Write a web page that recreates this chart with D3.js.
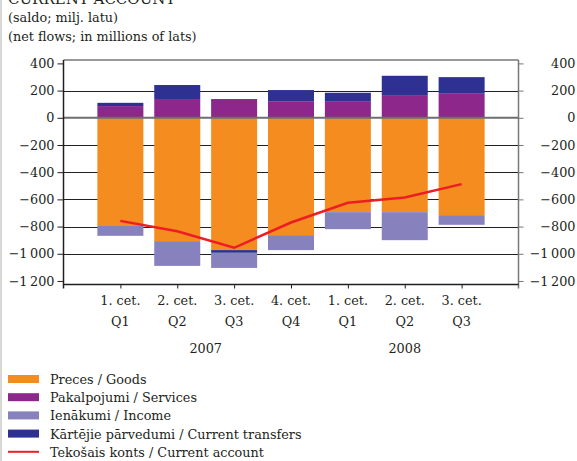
<!DOCTYPE html>
<html><head><meta charset="utf-8">
<script src="https://cdn.jsdelivr.net/npm/d3@7"></script>
<style>body{margin:0;background:#fff}svg{display:block}</style>
</head><body>
<svg id="c" width="577" height="461"></svg>
<script>
const quarters = ["1. cet.|Q1","2. cet.|Q2","3. cet.|Q3","4. cet.|Q4","1. cet.|Q1","2. cet.|Q2","3. cet.|Q3"];
const years = [{label:"2007", from:0, to:3},{label:"2008", from:4, to:6}];
const goods = [-790,-907,-973,-863,-694,-694,-716];
const services = [86,138,138,122,118,167,177];
const income = [-78,-182,-111,-110,-125,-206,-71];
const transfers = [24,103,-20,82,66,142,122];
const currentAccount = [-758,-834,-956,-770,-625,-586,-488];
const yTicks = [400,200,0,-200,-400,-600,-800,-1000,-1200];
const seriesNames = ["Preces / Goods","Pakalpojumi / Services","Ienākumi / Income","Kārtējie pārvedumi / Current transfers","Tekošais konts / Current account"];
const colors = ["#f58c1f","#8e278b","#8781bd","#2e3192","#ee1c25"];

const FONT = "DejaVu Serif";
const FS = 12.8;
const svg = d3.select("#c");
const L=63.5, R=518.5, T=60, B=284.5;
const y = d3.scaleLinear().domain([-1226,425]).range([B,T]);
const x = d3.scaleLinear().domain([0,8]).range([L,R]);
const bw = 46;
const fmt = v => (v<0?"\u2212":"") + d3.format(",")(Math.abs(v)).replace(/,/g,"\u2009");
const txt = (sel) => sel.attr("font-family",FONT).attr("fill","#231f20");

// faint left border
svg.append("line").attr("x1",1).attr("x2",1).attr("y1",0).attr("y2",461).attr("stroke","#d8d8d8").attr("stroke-width",2);

// title (cut off at top as in reference)
txt(svg.append("text").attr("x",8).attr("y",4).attr("font-size",15).text("CURRENT ACCOUNT"));
txt(svg.append("text").attr("x",8).attr("y",22).attr("font-size",FS).text("(saldo; milj. latu)"));
txt(svg.append("text").attr("x",8).attr("y",41).attr("font-size",FS).text("(net flows; in millions of lats)"));

// gridlines
const g = svg.append("g");
yTicks.filter(v=>v<400 && v>-1200 && v!==0).forEach(v=>{
  g.append("line").attr("x1",L).attr("x2",R).attr("y1",Math.round(y(v))+0.5).attr("y2",Math.round(y(v))+0.5).attr("stroke","#231f20").attr("stroke-width",1);
});
g.append("line").attr("x1",L).attr("x2",R).attr("y1",T).attr("y2",T).attr("stroke","#777").attr("stroke-width",1.5);

// bars
const data = quarters.map((q,i)=>({i,goods:goods[i],services:services[i],income:income[i],transfers:transfers[i]}));
const keys = ["goods","services","transfers","income"];
const keyColor = {goods:colors[0],services:colors[1],income:colors[2],transfers:colors[3]};
const stack = d3.stack().keys(keys).offset(d3.stackOffsetDiverging)(data);
stack.forEach(s=>{
  svg.append("g").selectAll("rect").data(s).join("rect")
    .attr("x",d=>x(d.data.i+1)-bw/2).attr("width",bw)
    .attr("y",d=>y(Math.max(d[0],d[1]))).attr("height",d=>Math.abs(y(d[0])-y(d[1])))
    .attr("fill",keyColor[s.key]);
});

// zero line
svg.append("line").attr("x1",L).attr("x2",R).attr("y1",y(0)).attr("y2",y(0)).attr("stroke","#6d6e70").attr("stroke-width",2);

// current account line
svg.append("path").datum(currentAccount)
  .attr("d",d3.line().x((d,i)=>x(i+1)).y(d=>y(d)))
  .attr("fill","none").attr("stroke",colors[4]).attr("stroke-width",2.5);

// axes
const left = svg.append("g").attr("transform",`translate(${L},0)`)
  .call(d3.axisLeft(y).tickValues(yTicks).tickFormat(fmt).tickSize(6).tickPadding(3));
left.attr("font-family",FONT);
left.select(".domain").remove();
left.append("line").attr("x1",0).attr("x2",0).attr("y1",T).attr("y2",B+4).attr("stroke","#231f20").attr("stroke-width",1.5);
left.selectAll("line").attr("stroke","#231f20");
txt(left.selectAll("text").attr("font-size",FS));

const right = svg.append("g").attr("transform",`translate(${R},0)`)
  .call(d3.axisRight(y).tickValues(yTicks).tickFormat(fmt).tickSize(5).tickPadding(0));
right.attr("font-family",FONT);
right.select(".domain").remove();
right.append("line").attr("x1",0).attr("x2",0).attr("y1",T).attr("y2",B+4).attr("stroke","#777").attr("stroke-width",1.5);
right.selectAll("line").attr("stroke","#777");
txt(right.selectAll("text").attr("font-size",FS).attr("text-anchor","end").attr("x",57));

// bottom axis
svg.append("line").attr("x1",L).attr("x2",R).attr("y1",B).attr("y2",B).attr("stroke","#231f20").attr("stroke-width",1.5);
const bottom = svg.append("g").attr("transform",`translate(0,${B})`)
  .call(d3.axisBottom(x).tickValues(d3.range(1,8)).tickSize(4).tickFormat(""));
bottom.select(".domain").remove();
bottom.selectAll("line").attr("stroke","#231f20");
quarters.forEach((q,i)=>{
  const [a,b] = q.split("|");
  txt(svg.append("text").attr("x",x(i+1)).attr("y",305).attr("text-anchor","middle").attr("font-size",FS).text(a));
  txt(svg.append("text").attr("x",x(i+1)).attr("y",326).attr("text-anchor","middle").attr("font-size",FS).text(b));
});
years.forEach(yr=>{
  txt(svg.append("text").attr("x",(x(yr.from+1)+x(yr.to+1))/2).attr("y",353).attr("text-anchor","middle").attr("font-size",FS).text(yr.label));
});

// legend
seriesNames.forEach((n,k)=>{
  const cy = 379 + k*18.2;
  if(k<4) svg.append("rect").attr("x",8).attr("y",cy-4).attr("width",31).attr("height",8).attr("fill",colors[k]);
  else svg.append("line").attr("x1",8).attr("x2",39).attr("y1",cy).attr("y2",cy).attr("stroke",colors[k]).attr("stroke-width",2);
  txt(svg.append("text").attr("x",50).attr("y",cy+5).attr("font-size",FS).text(n));
});
</script>
</body></html>
